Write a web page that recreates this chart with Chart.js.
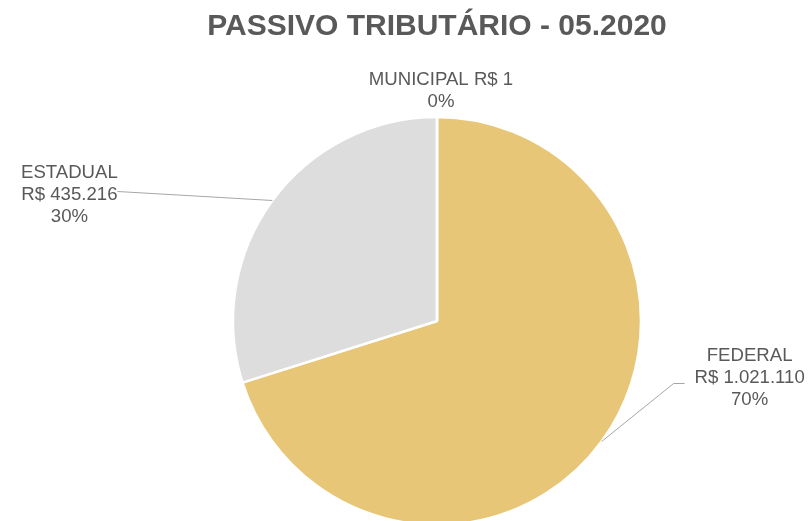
<!DOCTYPE html>
<html>
<head>
<meta charset="utf-8">
<script src="https://cdn.jsdelivr.net/npm/chart.js@4"></script>
<style>
  html, body { margin: 0; padding: 0; background: #fff; }
  #wrap { width: 811px; height: 521px; }
</style>
</head>
<body>
<div id="wrap"><canvas id="passivoChart" width="811" height="521"></canvas></div>
<script>
// dados do gráfico
const categorias = ['FEDERAL', 'ESTADUAL', 'MUNICIPAL'];
const valores = [1021110, 435216, 1];
const valoresTexto = ['R$ 1.021.110', 'R$ 435.216', 'R$ 1'];
const percentuais = ['70%', '30%', '0%'];
const cores = ['#E7C677', '#DDDDDD', '#A5A5A5'];

// posição dos rótulos em relação ao ponto médio da borda de cada fatia
const rotulos = [
    { dx: 148, dy: -64, leader: [[72, -58], [83, -58]] },
    { dx: -203, dy: -6, leader: [[-155, -9]] },
    { dx: 4, dy: -26, leader: null, inline: true }
];

const labelPlugin = {
    id: 'rotulosFatias',
    afterDatasetsDraw(chart) {
        const ctx = chart.ctx;
        const meta = chart.getDatasetMeta(0);
        ctx.save();
        meta.data.forEach((arc, i) => {
            const p = arc.getProps(['x', 'y', 'startAngle', 'endAngle', 'outerRadius'], true);
            const mid = (p.startAngle + p.endAngle) / 2;
            const ex = p.x + Math.cos(mid) * p.outerRadius;
            const ey = p.y + Math.sin(mid) * p.outerRadius;
            const r = rotulos[i];

            if (r.leader) {
                ctx.strokeStyle = '#A6A6A6';
                ctx.lineWidth = 1;
                ctx.beginPath();
                ctx.moveTo(ex, ey);
                r.leader.forEach(pt => ctx.lineTo(ex + pt[0], ey + pt[1]));
                ctx.stroke();
            }

            ctx.fillStyle = '#595959';
            ctx.font = '18.6px "Liberation Sans", Arial, sans-serif';
            ctx.textAlign = 'center';
            ctx.textBaseline = 'middle';
            const cx = ex + r.dx;
            const cy = ey + r.dy;
            let linhas;
            if (r.inline) {
                linhas = [categorias[i] + ' ' + valoresTexto[i], percentuais[i]];
            } else {
                linhas = [categorias[i], valoresTexto[i], percentuais[i]];
            }
            const lh = 22;
            const top = cy - (linhas.length - 1) * lh / 2;
            linhas.forEach((t, k) => ctx.fillText(t, cx, top + k * lh));
        });
        ctx.restore();
    }
};

const ctx = document.getElementById('passivoChart').getContext('2d');
const passivoChart = new Chart(ctx, {
    type: 'pie',
    data: {
        labels: categorias,
        datasets: [{
            data: valores,
            backgroundColor: cores,
            borderColor: '#FFFFFF',
            borderWidth: 2.5,
            radius: 204
        }]
    },
    options: {
        responsive: false,
        animation: false,
        layout: {
            padding: { left: 63, right: 0, top: 0, bottom: 0 }
        },
        plugins: {
            legend: { display: false },
            tooltip: { enabled: false },
            title: {
                display: true,
                text: 'PASSIVO TRIBUTÁRIO - 05.2020',
                color: '#595959',
                font: { family: '"Liberation Sans", Arial, sans-serif', size: 30, weight: 'bold', lineHeight: 1.2 },
                padding: { top: 9, bottom: 76 }
            }
        }
    },
    plugins: [labelPlugin]
});
</script>
</body>
</html>
